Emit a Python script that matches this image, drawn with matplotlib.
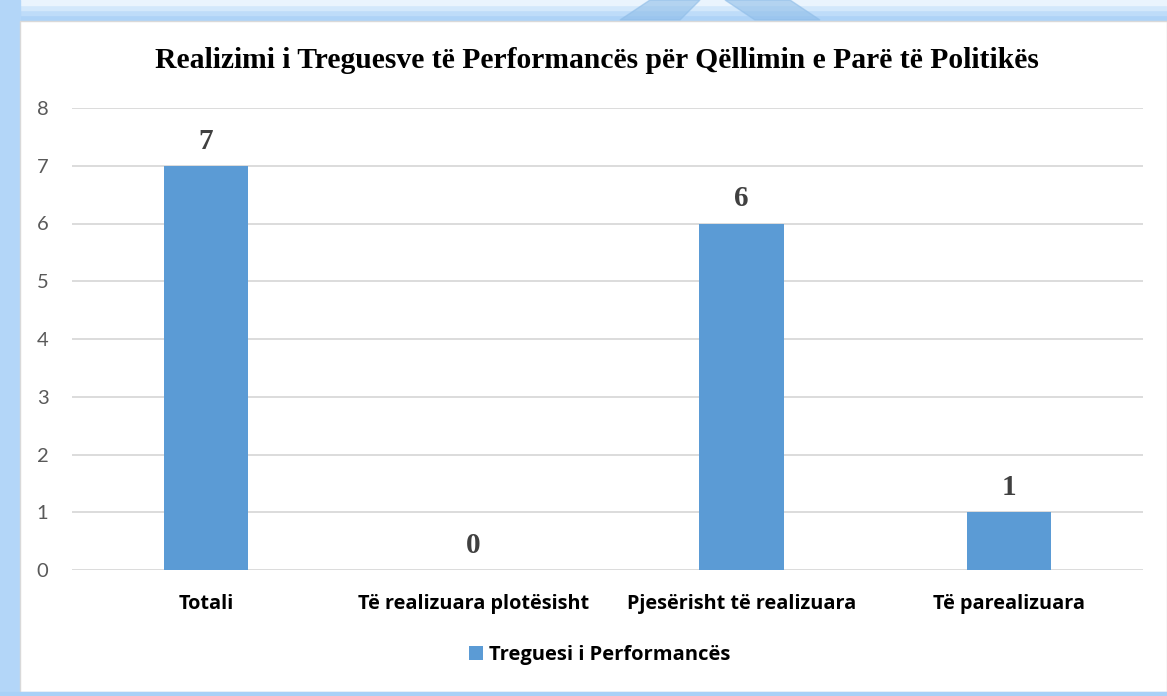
import matplotlib
matplotlib.use("Agg")
import matplotlib.pyplot as plt
from matplotlib.patches import Rectangle, Polygon

categories = ["Totali", "Të realizuara plotësisht", "Pjesërisht të realizuara", "Të parealizuara"]
values = [7, 0, 6, 1]
series_name = "Treguesi i Performancës"
title = "Realizimi i Treguesve të Performancës për Qëllimin e Parë të Politikës"
yticks = [0, 1, 2, 3, 4, 5, 6, 7, 8]

W, H = 1167, 696
fig = plt.figure(figsize=(W / 100, H / 100), dpi=100)
fig.patch.set_facecolor("#a9d1f7")

bg = fig.add_axes([0, 0, 1, 1])
bg.set_xlim(0, W)
bg.set_ylim(H, 0)
bg.axis("off")
for i, c in enumerate(["#eaf4fd", "#d3e8fb", "#bedcf9", "#aed3f7"]):
    bg.add_patch(Rectangle((0, 0), W, 5 * (i + 1), color=c, zorder=1 - i * 0.01))
bg.add_patch(Rectangle((0, 0), W, 20, color="#a9d1f7", zorder=0))
bg.add_patch(Polygon([[620, 20], [650, 0], [700, 0], [680, 20]], closed=True, color="#8fbde8", alpha=0.6, zorder=2))
bg.add_patch(Polygon([[755, 20], [725, 0], [790, 0], [820, 20]], closed=True, color="#8fbde8", alpha=0.6, zorder=2))
bg.add_patch(Polygon([[0, 0], [20, 0], [20, 696], [0, 696]], closed=True, color="#b3d6f8", zorder=1))
bg.add_patch(Rectangle((20, 21), W - 20, 671, facecolor="white", edgecolor="#d9d9d9", linewidth=1, zorder=3))
bg.add_patch(Rectangle((0, 692), W, 4, color="#a9d1f7", zorder=3))

left, right = 72, 1143
top, bottom = 108, 570
ax = fig.add_axes([left / W, 1 - bottom / H, (right - left) / W, (bottom - top) / H])
ax.set_facecolor("none")
x = list(range(len(categories)))
bars = ax.bar(x, values, width=0.315, color="#5b9bd5", zorder=3, label=series_name)
ax.set_xlim(-0.5, len(categories) - 0.5)
ax.set_ylim(0, 8)
ax.set_yticks(yticks)
ax.set_yticklabels([str(t) for t in yticks], fontsize=14.5, color="#595959", family="Lato")
ax.tick_params(axis="y", length=0, pad=17)
ax.tick_params(axis="x", length=0, pad=17)
ax.set_xticks(x)
ax.set_xticklabels(categories, fontsize=14.3, fontweight="bold", family="Open Sans", color="black")
ax.grid(axis="y", color="#d9d9d9", linewidth=1.3, zorder=0)
for s in ax.spines.values():
    s.set_visible(False)

for xi, v in zip(x, values):
    ax.annotate(str(v), (xi, v), xytext=(0, 8), textcoords="offset points",
                ha="center", va="bottom", fontsize=21, fontweight="bold",
                family="Liberation Serif", color="#404040")

fig.text(597 / W, 1 - 61 / H, title, ha="center", va="center",
         fontsize=21.3, fontweight="bold", family="Liberation Serif", color="black")

leg = fig.legend(handles=[bars], labels=[series_name], loc="center",
                 bbox_to_anchor=(600 / W, 1 - 655 / H), frameon=False,
                 prop={"family": "Open Sans", "weight": "bold", "size": 14.5},
                 handlelength=0.7, handleheight=0.7, handletextpad=0.3)

fig.savefig("out.png", dpi=100, facecolor=fig.get_facecolor())
